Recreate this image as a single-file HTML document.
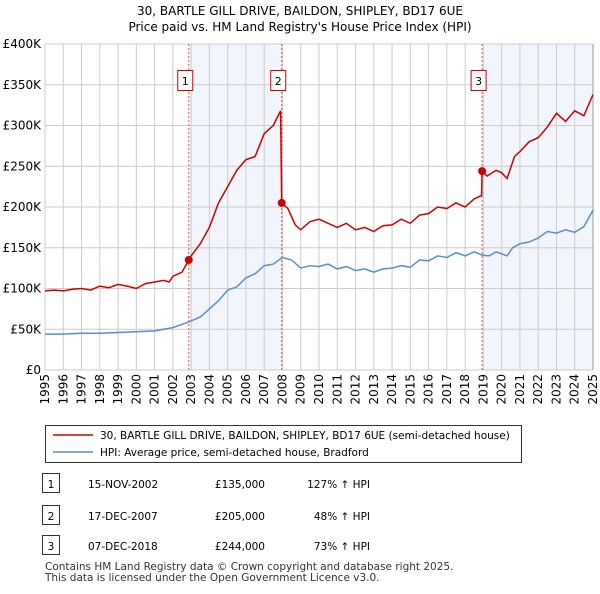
<!DOCTYPE html>
<html><head><meta charset="utf-8"><style>
body{margin:0;background:#fff;font-family:"DejaVu Sans","Liberation Sans",sans-serif;}
</style></head><body>
<svg id="c" width="600" height="590" viewBox="0 0 600 590" xmlns="http://www.w3.org/2000/svg" font-family="DejaVu Sans, Liberation Sans, sans-serif"></svg>
<script>
const years=[1995,1996,1997,1998,1999,2000,2001,2002,2003,2004,2005,2006,2007,2008,2009,2010,2011,2012,2013,2014,2015,2016,2017,2018,2019,2020,2021,2022,2023,2024,2025];
const yTicks=[0,50,100,150,200,250,300,350,400];
const yTickLabels=["£0","£50K","£100K","£150K","£200K","£250K","£300K","£350K","£400K"];
const redT=[1995,1995.5,1996,1996.5,1997,1997.5,1998,1998.5,1999,1999.5,2000,2000.5,2001,2001.5,2001.8,2002,2002.5,2002.87,2003,2003.5,2004,2004.5,2005,2005.5,2006,2006.5,2007,2007.5,2007.9,2007.96,2008.3,2008.7,2009,2009.5,2010,2010.5,2011,2011.5,2012,2012.5,2013,2013.5,2014,2014.5,2015,2015.5,2016,2016.5,2017,2017.5,2018,2018.5,2018.9,2018.93,2019.2,2019.7,2020,2020.3,2020.7,2021,2021.5,2022,2022.5,2023,2023.5,2024,2024.5,2025];
const redV=[97,98,97,99,100,98,103,101,105,103,100,106,108,110,108,115,120,135,140,155,175,205,225,245,258,262,290,300,318,205,198,178,172,182,185,180,175,180,172,175,170,177,178,185,180,190,192,200,198,205,200,210,214,244,238,245,242,235,262,268,280,285,298,315,305,318,312,338];
const blueT=[1995,1996,1997,1998,1999,2000,2001,2002,2002.87,2003.5,2004,2004.5,2005,2005.5,2006,2006.5,2007,2007.5,2008,2008.5,2009,2009.5,2010,2010.5,2011,2011.5,2012,2012.5,2013,2013.5,2014,2014.5,2015,2015.5,2016,2016.5,2017,2017.5,2018,2018.5,2018.93,2019.3,2019.7,2020.3,2020.6,2021,2021.5,2022,2022.5,2023,2023.5,2024,2024.5,2025];
const blueV=[44,44,45,45,46,47,48,52,59,65,75,85,98,102,113,118,128,130,138,135,125,128,127,130,124,127,122,124,120,124,125,128,126,135,134,140,138,144,140,145,141,140,145,140,150,155,157,162,170,168,172,169,176,196];
const saleT=[2002.87,2007.96,2018.93];
const saleV=[135,205,244];
const saleLabels=["1","2","3"];
const rows=[["1","15-NOV-2002","£135,000","127% ↑ HPI"],["2","17-DEC-2007","£205,000","48% ↑ HPI"],["3","07-DEC-2018","£244,000","73% ↑ HPI"]];
const NS="http://www.w3.org/2000/svg",svg=document.getElementById('c');
const X0=45,X1=593,Y0=370,Y1=44;
const x=t=>X0+(t-1995)/30*(X1-X0), y=v=>Y0-v/400*(Y0-Y1);
function mk(tag,a,p){const e=document.createElementNS(NS,tag);for(const k in a)e.setAttribute(k,a[k]);(p||svg).appendChild(e);return e;}
function tx(s,a){const e=mk('text',a);e.textContent=s;return e;}
let e;
e=tx("30, BARTLE GILL DRIVE, BAILDON, SHIPLEY, BD17 6UE",{x:300,y:15,'text-anchor':'middle','font-size':12});

e=tx("Price paid vs. HM Land Registry's House Price Index (HPI)",{x:300,y:31,'text-anchor':'middle','font-size':12});

e=mk('rect',{x:x(saleT[0]),y:Y1,width:x(saleT[1])-x(saleT[0]),height:Y0-Y1,fill:'#f2f5fc'});

e=mk('rect',{x:x(saleT[2]),y:Y1,width:X1-x(saleT[2]),height:Y0-Y1,fill:'#f2f5fc'});

years.forEach(yr=>{e=mk('line',{x1:x(yr),x2:x(yr),y1:Y1,y2:Y0,stroke:'#ccc'});

e=tx(String(yr),{transform:`translate(${x(yr)+4},${Y0+4}) rotate(-90)`,'text-anchor':'end','font-size':12});
});
yTicks.forEach((v,i)=>{e=mk('line',{x1:X0,x2:X1,y1:y(v),y2:y(v),stroke:'#ccc'});

e=tx(yTickLabels[i],{x:X0-4,y:y(v)+4,'text-anchor':'end','font-size':12});
});
mk('line',{x1:X1,x2:X1,y1:Y1,y2:Y0,stroke:'#999'});
saleT.forEach((t,i)=>{e=mk('line',{x1:x(t),x2:x(t),y1:Y1,y2:Y0,stroke:'#e05050','stroke-dasharray':'2,2'});

e=mk('rect',{x:x(t)-11,y:70.5,width:15,height:20,fill:'#fff',stroke:'#c00'});

e=tx(saleLabels[i],{x:x(t)-3.5,y:85,'text-anchor':'middle','font-size':11});
});
const path=(T,V)=>T.map((t,i)=>(i?'L':'M')+x(t).toFixed(1)+','+y(V[i]).toFixed(1)).join('');
e=mk('path',{d:path(blueT,blueV),fill:'none',stroke:'#5b8bd0','stroke-width':1.5});

e=mk('path',{d:path(redT,redV),fill:'none',stroke:'#cc0000','stroke-width':1.5});

saleT.forEach((t,i)=>{e=mk('circle',{cx:x(t),cy:y(saleV[i]),r:4,fill:'#cc0000'});
});
e=mk('rect',{x:45.5,y:425.5,width:476,height:37,fill:'#fff',stroke:'#333'});

mk('line',{x1:53,x2:93,y1:435,y2:435,stroke:'#cc0000','stroke-width':1.5});
e=tx("30, BARTLE GILL DRIVE, BAILDON, SHIPLEY, BD17 6UE (semi-detached house)",{x:100,y:439,'font-size':10.5});

mk('line',{x1:53,x2:93,y1:452,y2:452,stroke:'#5b8bd0','stroke-width':1.5});
e=tx("HPI: Average price, semi-detached house, Bradford",{x:100,y:456,'font-size':10.5});

[484,516,546].forEach((ry,i)=>{const r=rows[i];
e=mk('rect',{x:42.5,y:ry-10.5,width:17,height:19,fill:'#fff',stroke:'#333'});

tx(r[0],{x:51,y:ry+4,'text-anchor':'middle','font-size':10.5});
e=tx(r[1],{x:88,y:ry+4,'font-size':10.5});
e=tx(r[2],{x:265,y:ry+4,'font-size':10.5,'text-anchor':'end'});
e=tx(r[3],{x:370,y:ry+4,'font-size':10.5,'text-anchor':'end'});});
e=tx("Contains HM Land Registry data © Crown copyright and database right 2025.",{x:45,y:570,'font-size':10.5,fill:'#333'});

e=tx("This data is licensed under the Open Government Licence v3.0.",{x:45,y:581,'font-size':10.5,fill:'#333'});

</script>
</body></html>
